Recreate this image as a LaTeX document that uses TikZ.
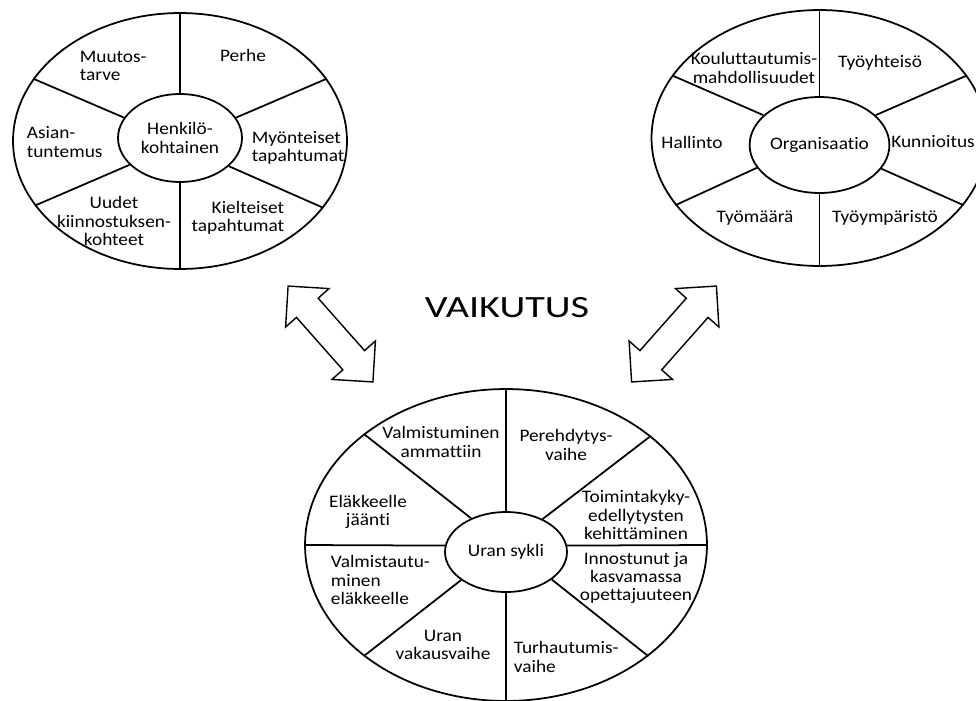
\documentclass[tikz,border=0pt]{standalone}
\usepackage{fontspec}
\setmainfont[Ligatures=NoCommon, FakeStretch=1.1]{Carlito}
\newfontfamily\widefont[Ligatures=NoCommon, FakeStretch=1.3]{Carlito}
\usetikzlibrary{shapes.geometric}
\def\blockarrow(#1)(#2){\draw[line width=0.8pt, shift={(#1)}, rotate=#2] (-64,0) -- (-35,29) -- (-35,14.5) -- (35,14.5) -- (35,29) -- (64,0) -- (35,-29) -- (35,-14.5) -- (-35,-14.5) -- (-35,-29) -- cycle;}

\begin{document}
\begin{tikzpicture}[x=0.02cm, y=-0.02cm, line width=1pt,
		font=\fontsize{10}{10.5}\selectfont,
		wheel/.style={draw, ellipse, inner sep=0pt},
		hub/.style={draw, ellipse, inner sep=0pt, align=center},
		lbl/.style={align=center, inner sep=0pt}]
			%%%%% START %%%%%
			\useasboundingbox (0,0) rectangle (976,700);
			
			% henkilokohtainen
			\node[wheel, minimum width=6.68cm, minimum height=5.12cm] (hout) at (180,141) {};
			\node[hub, minimum width=2.48cm, minimum height=1.76cm] (hin) at (180,138) {Henkilö-\\kohtainen};
			\foreach \a/\b in {90/90, 270/270, 160/157, 20/23, 208/204, 330/335}
				\draw (hin.\a) -- (hout.\b);
			
			\node[lbl, align=left, anchor=west] (muutos) at (79,66) {Muutos-\\tarve};
			\node[lbl] (perhe) at (243,55) {Perhe};
			\node[lbl, align=left, anchor=west] (asian) at (26,142) {Asian-\\tuntemus};
			\node[lbl, align=left, anchor=west] (myont) at (251,148) {Myönteiset\\tapahtumat};
			\node[lbl] (uudet) at (114,221) {Uudet\\kiinnostuksen-\\kohteet};
			\node[lbl, align=right, anchor=east] (kielt) at (285,218) {Kielteiset\\tapahtumat};
			
			% organisaatio
			\node[wheel, minimum width=6.72cm, minimum height=5.12cm] (oout) at (819.5,138) {};
			\node[hub, minimum width=2.44cm, minimum height=1.92cm] (oin) at (819.5,145) {Organisaatio};
			\foreach \a/\b in {90/90, 270/270, 152/157, 28/23, 200/205, 339/335}
				\draw (oin.\a) -- (oout.\b);
			
			\node[lbl] (koulu) at (754,68) {Kouluttautumis-\\mahdollisuudet};
			\node[lbl] (yhteiso) at (880,63) {Työyhteisö};
			\node[lbl] (hallinto) at (692,142) {Hallinto};
			\node[lbl] (kunnioitus) at (933,142) {Kunnioitus};
			\node[lbl] (maara) at (755,218) {Työmäärä};
			\node[lbl] (ymparisto) at (885,218) {Työympäristö};
			
			% uran sykli
			\node[wheel, minimum width=8.04cm, minimum height=6.24cm] (uout) at (506,545) {};
			\node[hub, minimum width=2.44cm, minimum height=1.6cm] (uin) at (506,552) {Uran sykli};
			\foreach \a/\b in {90/90, 270/270, 174/180, 6/0, 136/142, 42/37, 212/218, 329/322}
				\draw (uin.\a) -- (uout.\b);
			
			\node[lbl] (valm) at (441,442) {Valmistuminen\\ammattiin};
			\node[lbl] (pereh) at (566,445) {Perehdytys-\\vaihe};
			\node[lbl] (elak) at (368,512) {Eläkkeelle\\jäänti};
			\node[lbl] (toim) at (636,515) {Toimintakyky-\\edellytysten\\kehittäminen};
			\node[lbl, align=left, anchor=west] (valmis) at (330,580) {Valmistautu-\\minen\\eläkkeelle};
			\node[lbl] (innos) at (636,578) {Innostunut ja\\kasvamassa\\opettajuuteen};
			\node[lbl] (vakaus) at (443,645) {Uran\\vakausvaihe};
			\node[lbl, align=left, anchor=west] (turh) at (513,657) {Turhautumis-\\vaihe};
			
			% vaikutus
			\node[font=\widefont\fontsize{17.6}{20}\selectfont, inner sep=0pt] (vaikutus) at (507,308) {VAIKUTUS};
			\blockarrow(330.5,334)(-48.5)
			\blockarrow(674,334)(48.5)
			%%%%% END %%%%%
\end{tikzpicture}
\end{document}
